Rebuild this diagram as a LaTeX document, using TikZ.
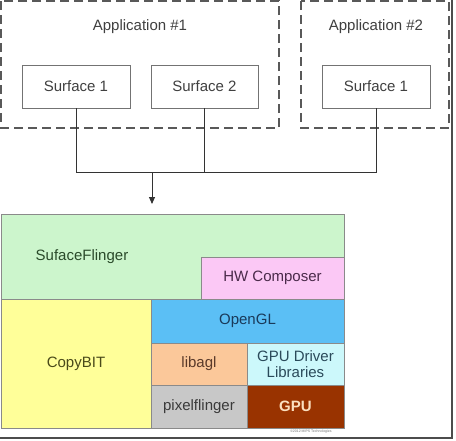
\documentclass[tikz,border=0pt]{standalone}
\usepackage{fontspec}
\setmainfont{Liberation Sans}
\usetikzlibrary{arrows.meta}
\definecolor{sfgreen}{HTML}{CCF5CC}
\definecolor{sftext}{HTML}{2A4A2A}
\definecolor{hwpink}{HTML}{FBC8F5}
\definecolor{hwtext}{HTML}{4A2A4A}
\definecolor{glblue}{HTML}{5BBFF5}
\definecolor{gltext}{HTML}{1A3A5A}
\definecolor{cbyellow}{HTML}{FFFF99}
\definecolor{cbtext}{HTML}{4A4A1A}
\definecolor{agpeach}{HTML}{FBC89A}
\definecolor{agtext}{HTML}{5A3A2A}
\definecolor{drvcyan}{HTML}{CCF8FB}
\definecolor{drvtext}{HTML}{2A4A5A}
\definecolor{pfgrey}{HTML}{C8C8C8}
\definecolor{pftext}{HTML}{3A3A3A}
\definecolor{gpubrown}{HTML}{993300}
\definecolor{gputext}{HTML}{FBE0C0}
\definecolor{linegrey}{HTML}{8A8A8A}
\tikzset{
  appbox/.style={draw=black!65, line width=1.5pt, dash pattern=on 9pt off 5pt},
  surfbox/.style={draw=black!55, line width=0.9pt, fill=white, minimum width=108, minimum height=43, inner sep=0pt, font=\fontsize{15}{18}\selectfont, text=black!75},
  apptitle/.style={font=\fontsize{15}{18}\selectfont, text=black!75},
  layer/.style={draw=linegrey, line width=0.8pt, inner sep=0pt, font=\fontsize{15}{18}\selectfont, align=center},
  conn/.style={draw=black!80, line width=0.9pt},
}
\begin{document}
\begin{tikzpicture}[x=1pt,y=-1pt]
\useasboundingbox (0,0) rectangle (456,440);
\fill[white] (0,0) rectangle (456,440);
% application frames
\draw[appbox] (1,1) rectangle (279,128);
\draw[appbox] (301,1) rectangle (449,128);
\node[apptitle] (a1) at (140,27) {Application \#1};
\node[apptitle] (a2) at (376,27) {Application \#2};
% surfaces
\node[surfbox] (s11) at (76,86.5) {Surface 1};
\node[surfbox, minimum width=107] (s12) at (204.5,86.5) {Surface 2};
\node[surfbox] (s21) at (376,86.5) {Surface 1};
% connectors
\coordinate (j) at (152,172);
\coordinate (sftop) at (152,204);
\draw[conn] (s11.south) |- (s21.south |- j) -- (s21.south);
\draw[conn] (s12.south) -- (s12.south |- j);
\draw[conn, -{Triangle[length=7pt,width=6pt]}] (j) -- (sftop);
% SurfaceFlinger L shape
\draw[layer, fill=sfgreen] (1,214) -- (344,214) -- (344,257) -- (201,257) -- (201,299) -- (1,299) -- cycle;
\node[text=sftext, font=\fontsize{15}{18}\selectfont] (sf) at (82,257) {SufaceFlinger};
\node[layer, fill=hwpink, text=hwtext, minimum width=143, minimum height=42] (hwc) at (272.5,278) {HW Composer};
\node[layer, fill=cbyellow, text=cbtext, minimum width=150, minimum height=129] (cb) at (76,363.5) {CopyBIT};
\node[layer, fill=glblue, text=gltext, minimum width=193, minimum height=44] (gl) at (247.5,321) {OpenGL};
\node[layer, fill=agpeach, text=agtext, minimum width=96, minimum height=42] (ag) at (199,364) {libagl};
\node[layer, fill=drvcyan, text=drvtext, minimum width=97, minimum height=42, font=\fontsize{15}{16}\selectfont] (drv) at (295.5,364) {GPU Driver\\Libraries};
\node[layer, fill=pfgrey, text=pftext, minimum width=96, minimum height=43] (pf) at (199,406.5) {pixelflinger};
\node[layer, fill=gpubrown, text=gputext, minimum width=97, minimum height=43, font=\fontsize{15}{18}\selectfont\bfseries] (gpu) at (295.5,406.5) {GPU};
\node[text=black!55, font=\fontsize{3.5}{4}\selectfont] (cr) at (311,432) {©2012 MIPS Technologies};
% outer frame
\draw[line width=2pt, black!70] (452,0) -- (452,437.5) -- (0,437.5);
\end{tikzpicture}
\end{document}
